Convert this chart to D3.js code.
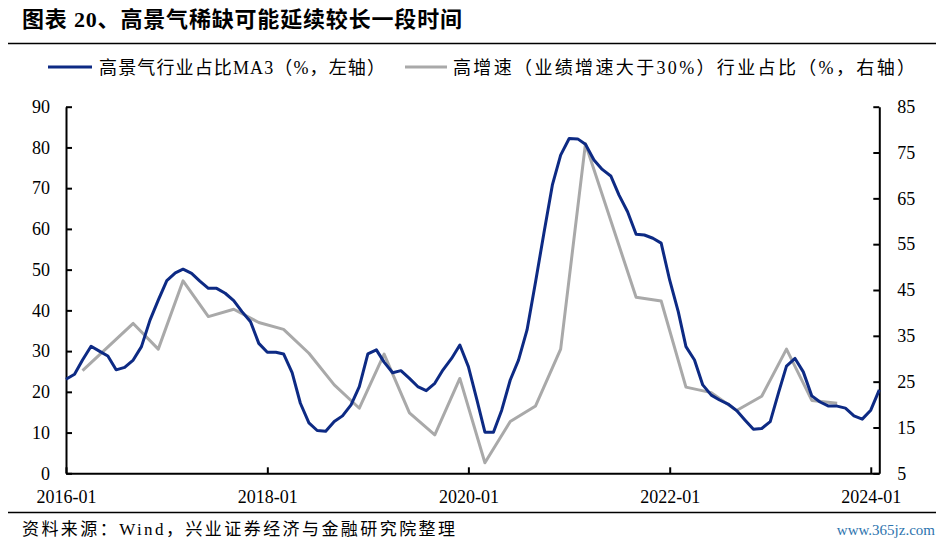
<!DOCTYPE html>
<html>
<head>
<meta charset="utf-8">
<script src="https://cdn.jsdelivr.net/npm/d3@7/dist/d3.min.js"></script>
<style>
  html, body { margin: 0; padding: 0; background: #fff; }
  svg { display: block; }
  text { font-family: "Liberation Serif", "Times New Roman", "Noto Sans CJK SC", serif; }
</style>
</head>
<body>
<svg id="chart" width="943" height="541"></svg>
<script>
// ---------- data ----------
const titleText = "图表 20、高景气稀缺可能延续较长一段时间";
const sourceText = "资料来源：Wind，兴业证券经济与金融研究院整理";
const watermark = "www.365jz.com";
const seriesNames = ["高景气行业占比MA3（%，左轴）", "高增速（业绩增速大于30%）行业占比（%，右轴）"];

// monthly, starting 2016-01
const blueStart = "2016-01";
const blueValues = [
  23.1, 24.3, 27.8, 31.2, 30.0, 28.8, 25.4, 26.0, 27.8, 31.1, 37.6, 42.5,
  47.3, 49.2, 50.1, 49.1, 47.2, 45.4, 45.4, 44.2, 42.4, 39.7, 37.2, 31.9,
  29.7, 29.7, 29.3, 24.7, 17.2, 12.4, 10.5, 10.3, 12.7, 14.1, 16.8, 21.3,
  29.3, 30.3, 27.3, 24.7, 25.2, 23.3, 21.3, 20.3, 22.1, 25.4, 28.2, 31.5,
  26.2, 18.0, 10.1, 10.1, 15.5, 22.9, 27.8, 35.2, 47.0, 58.9, 70.8, 78.1,
  82.2, 82.1, 80.8, 76.9, 74.6, 73.0, 68.3, 64.2, 58.7, 58.5, 57.7, 56.5,
  47.4, 39.7, 31.1, 27.8, 21.7, 19.2, 18.0, 17.0, 15.4, 13.1, 10.8, 11.0,
  12.7, 20.0, 26.3, 28.2, 24.9, 19.0, 17.5, 16.5, 16.5, 16.0, 14.1, 13.3,
  15.5, 20.5
];

const grayDates = [
  "2016-03", "2016-09", "2016-12", "2017-03", "2017-06", "2017-09", "2017-12",
  "2018-03", "2018-06", "2018-09", "2018-12", "2019-03", "2019-06", "2019-09",
  "2019-12", "2020-03", "2020-06", "2020-09", "2020-12", "2021-03", "2021-09",
  "2021-12", "2022-03", "2022-06", "2022-09", "2022-12", "2023-03", "2023-06",
  "2023-09"
];
const grayValues = [
  27.4, 37.7, 32.1, 47.0, 39.2, 40.8, 37.9,
  36.4, 31.2, 24.3, 19.2, 31.0, 18.2, 13.4,
  25.7, 7.3, 16.3, 19.7, 32.1, 76.9, 43.4,
  42.6, 23.8, 22.6, 18.7, 21.8, 32.1, 20.9,
  20.3
];

const xTickLabels = ["2016-01", "2018-01", "2020-01", "2022-01", "2024-01"];
const leftTicks = [0, 10, 20, 30, 40, 50, 60, 70, 80, 90];
const rightTicks = [5, 15, 25, 35, 45, 55, 65, 75, 85];

// ---------- setup ----------
const parseM = d3.timeParse("%Y-%m");
const fmtM = d3.timeFormat("%Y-%m");
const start = parseM(blueStart);
const blueData = blueValues.map((v, i) => ({ date: d3.timeMonth.offset(start, i), v }));
const grayData = grayDates.map((d, i) => ({ date: parseM(d), v: grayValues[i] }));

const svg = d3.select("#chart");
const plot = { left: 66, right: 879.3, top: 106.7, bottom: 473.3 };

const x = d3.scaleTime()
  .domain([parseM("2016-01"), parseM("2024-02")])
  .range([plot.left, plot.right]);
const yL = d3.scaleLinear().domain([0, 90]).range([plot.bottom, plot.top]);
const yR = d3.scaleLinear().domain([5, 85]).range([plot.bottom, plot.top]);

const blue = "#0d2a84";
const gray = "#a9a9a9";

// title
svg.append("text")
  .attr("x", 22).attr("y", 27)
  .attr("font-size", 22).attr("font-weight", "bold").attr("fill", "#000")
  .attr("textLength", 440).attr("lengthAdjust", "spacing")
  .text(titleText);
svg.append("line")
  .attr("x1", 8).attr("x2", 936).attr("y1", 43.5).attr("y2", 43.5)
  .attr("stroke", "#000").attr("stroke-width", 1.5);

// legend
const leg = svg.append("g").attr("font-size", 18).attr("fill", "#000");
leg.append("line").attr("x1", 48).attr("x2", 92).attr("y1", 67).attr("y2", 67)
  .attr("stroke", blue).attr("stroke-width", 3);
leg.append("text").attr("x", 99).attr("y", 73.5)
  .attr("textLength", 286).attr("lengthAdjust", "spacing")
  .text(seriesNames[0]);
leg.append("line").attr("x1", 405).attr("x2", 447).attr("y1", 67).attr("y2", 67)
  .attr("stroke", gray).attr("stroke-width", 3);
leg.append("text").attr("x", 453).attr("y", 73.5)
  .attr("textLength", 462).attr("lengthAdjust", "spacing")
  .text(seriesNames[1]);

// axes
const axisFont = 18;
const gL = svg.append("g").attr("transform", `translate(${plot.left},0)`)
  .call(d3.axisLeft(yL).tickValues(leftTicks).tickSizeInner(-6).tickSizeOuter(0).tickPadding(16));
const gR = svg.append("g").attr("transform", `translate(${plot.right},0)`)
  .call(d3.axisRight(yR).tickValues(rightTicks).tickSizeInner(-6).tickSizeOuter(0).tickPadding(18));
const gX = svg.append("g").attr("transform", `translate(0,${plot.bottom})`)
  .call(d3.axisBottom(x).tickValues(xTickLabels.map(parseM)).tickFormat(fmtM)
    .tickSizeInner(-6).tickSizeOuter(0).tickPadding(17));

[gL, gR, gX].forEach(g => {
  g.selectAll(".domain").attr("stroke", "#000").attr("stroke-width", 2);
  g.selectAll(".tick line").attr("stroke", "#000").attr("stroke-width", 2);
  g.selectAll(".tick text").attr("fill", "#000")
    .attr("font-size", axisFont)
    .attr("font-family", '"Liberation Serif", "Times New Roman", serif');
});

// lines
const lineL = d3.line().x(d => x(d.date)).y(d => yL(d.v));
const lineR = d3.line().x(d => x(d.date)).y(d => yR(d.v));

svg.append("path").datum(grayData)
  .attr("d", lineR).attr("fill", "none")
  .attr("stroke", gray).attr("stroke-width", 3).attr("stroke-linejoin", "round");
svg.append("path").datum(blueData)
  .attr("d", lineL).attr("fill", "none")
  .attr("stroke", blue).attr("stroke-width", 3).attr("stroke-linejoin", "round");

// footer
svg.append("line")
  .attr("x1", 8).attr("x2", 936).attr("y1", 512.5).attr("y2", 512.5)
  .attr("stroke", "#000").attr("stroke-width", 1.5);
svg.append("text")
  .attr("x", 22).attr("y", 535)
  .attr("font-size", 17).attr("fill", "#000")
  .attr("textLength", 433).attr("lengthAdjust", "spacing")
  .text(sourceText);
svg.append("text")
  .attr("x", 935).attr("y", 535).attr("text-anchor", "end")
  .attr("font-size", 15).attr("fill", "#2e74ae")
  .attr("font-family", '"Liberation Sans Narrow", "Liberation Sans", Arial, sans-serif')
  .text(watermark);
</script>
</body>
</html>
